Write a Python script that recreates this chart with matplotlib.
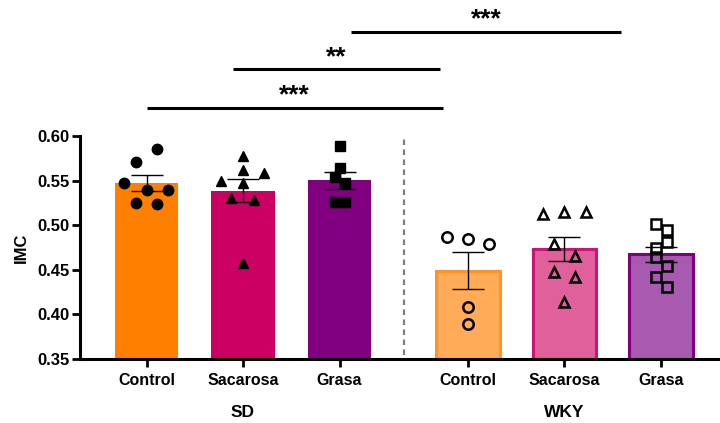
import matplotlib.pyplot as plt
import numpy as np

plt.rcParams["font.family"] = ["Liberation Sans", "DejaVu Sans"]
plt.rcParams["font.weight"] = "bold"

# group / category data
groups = ["SD", "WKY"]
tick_labels = ["Control", "Sacarosa", "Grasa", "Control", "Sacarosa", "Grasa"]
positions = np.array([0, 1, 2, 3.33, 4.33, 5.33])

means = [0.5477, 0.5387, 0.5503, 0.4490, 0.4735, 0.4676]
sems = [0.0090, 0.0128, 0.0098, 0.0210, 0.0135, 0.0084]

# individual points (value, x offset)
pts_sd_control = [0.5851, 0.5712, 0.5470, 0.5395, 0.5395, 0.5246, 0.5235]
off_sd_control = [0.11, -0.11, -0.23, 0.0, 0.22, -0.11, 0.11]
pts_sd_sac = [0.5776, 0.5619, 0.5496, 0.5582, 0.5470, 0.5302, 0.5283, 0.4573]
off_sd_sac = [0.0, 0.0, -0.23, 0.22, 0.0, -0.12, 0.11, 0.0]
pts_sd_grasa = [0.5888, 0.5645, 0.5537, 0.5470, 0.5263, 0.5263]
off_sd_grasa = [0.0, 0.0, -0.05, 0.06, -0.05, 0.06]
pts_wky_control = [0.4871, 0.4842, 0.4789, 0.4086, 0.3892]
off_wky_control = [-0.22, 0.0, 0.22, 0.0, 0.0]
pts_wky_sac = [0.5122, 0.5151, 0.5151, 0.4789, 0.4655, 0.4479, 0.4416, 0.4142]
off_wky_sac = [-0.22, 0.0, 0.22, -0.11, 0.11, -0.11, 0.11, 0.0]
pts_wky_grasa = [0.5013, 0.4946, 0.4815, 0.4741, 0.4640, 0.4546, 0.4416, 0.4311]
off_wky_grasa = [-0.055, 0.06, 0.06, -0.055, -0.055, 0.06, -0.055, 0.06]

points = [pts_sd_control, pts_sd_sac, pts_sd_grasa, pts_wky_control, pts_wky_sac, pts_wky_grasa]
offsets = [off_sd_control, off_sd_sac, off_sd_grasa, off_wky_control, off_wky_sac, off_wky_grasa]
markers = ["o", "^", "s", "o", "^", "s"]
filled = [True, True, True, False, False, False]

face_colors = ["#FF8000", "#CC0063", "#800080", "#FFAB57", "#E0609B", "#A75AB0"]
edge_colors = ["#FF8000", "#CC0063", "#800080", "#FF9326", "#CC1377", "#800080"]

# significance brackets: (x start, x end, y, label)
sig_x0 = [0.0, 0.90, 2.12]
sig_x1 = [3.07, 3.04, 4.92]
sig_y = [0.6317, 0.6748, 0.7169]
sig_labels = ["***", "**", "***"]

fig = plt.figure(figsize=(7.2, 4.23), dpi=100)
ax = fig.add_axes([0.111, 0.1513, 0.886, 0.5272])

for i, x in enumerate(positions):
    lw = 0 if i < 3 else 2.2
    ax.bar(x, means[i] - 0.35, bottom=0.35, width=0.66, color=face_colors[i],
           edgecolor=edge_colors[i], linewidth=lw, zorder=1)
    ax.errorbar(x, means[i], yerr=sems[i], color="black", capsize=11.5,
                elinewidth=1.0, capthick=1.0, zorder=3)
    xs = x + np.array(offsets[i])
    ms = 7.5 if markers[i] != "s" else 7
    if filled[i]:
        ax.plot(xs, points[i], linestyle="none", marker=markers[i], ms=ms,
                color="black", zorder=4, clip_on=False)
    else:
        ax.plot(xs, points[i], linestyle="none", marker=markers[i], ms=ms,
                markerfacecolor="none", markeredgecolor="black", mew=1.8,
                zorder=4, clip_on=False)

ax.plot([2.665, 2.665], [0.3545, 0.60], linestyle=(0, (2.5, 2.0)),
        color="#7f7f7f", lw=1.6, zorder=0)

for x0, x1, y, lab in zip(sig_x0, sig_x1, sig_y, sig_labels):
    ax.plot([x0, x1], [y, y], color="black", lw=2.2, clip_on=False,
            solid_capstyle="butt")
    ax.text((x0 + x1) / 2, y + 0.0005, lab, ha="center", va="bottom",
            fontsize=19, fontweight="bold", clip_on=False)

ax.set_xlim(-0.69, 5.92)
ax.set_ylim(0.35, 0.60)
ax.set_yticks([0.35, 0.40, 0.45, 0.50, 0.55, 0.60])
ax.set_yticklabels([f"{v:.2f}" for v in [0.35, 0.40, 0.45, 0.50, 0.55, 0.60]])
ax.set_xticks(positions)
ax.set_xticklabels(tick_labels)
ax.set_ylabel("IMC", fontsize=12, fontweight="bold", labelpad=6)

for s in ["top", "right"]:
    ax.spines[s].set_visible(False)
for s in ["left", "bottom"]:
    ax.spines[s].set_linewidth(2.2)
ax.tick_params(axis="both", width=2, length=6, labelsize=11.5)
ax.tick_params(axis="y", pad=1.5, labelsize=12)
ax.tick_params(axis="x", pad=4)
for lab in ax.get_xticklabels() + ax.get_yticklabels():
    lab.set_fontweight("bold")

ax.text(1, -0.24, groups[0], transform=ax.get_xaxis_transform(),
        ha="center", va="center", fontsize=12.5, fontweight="bold")
ax.text(4.33, -0.24, groups[1], transform=ax.get_xaxis_transform(),
        ha="center", va="center", fontsize=12.5, fontweight="bold")

fig.savefig("out.png", dpi=100, facecolor="white")
plt.close(fig)
